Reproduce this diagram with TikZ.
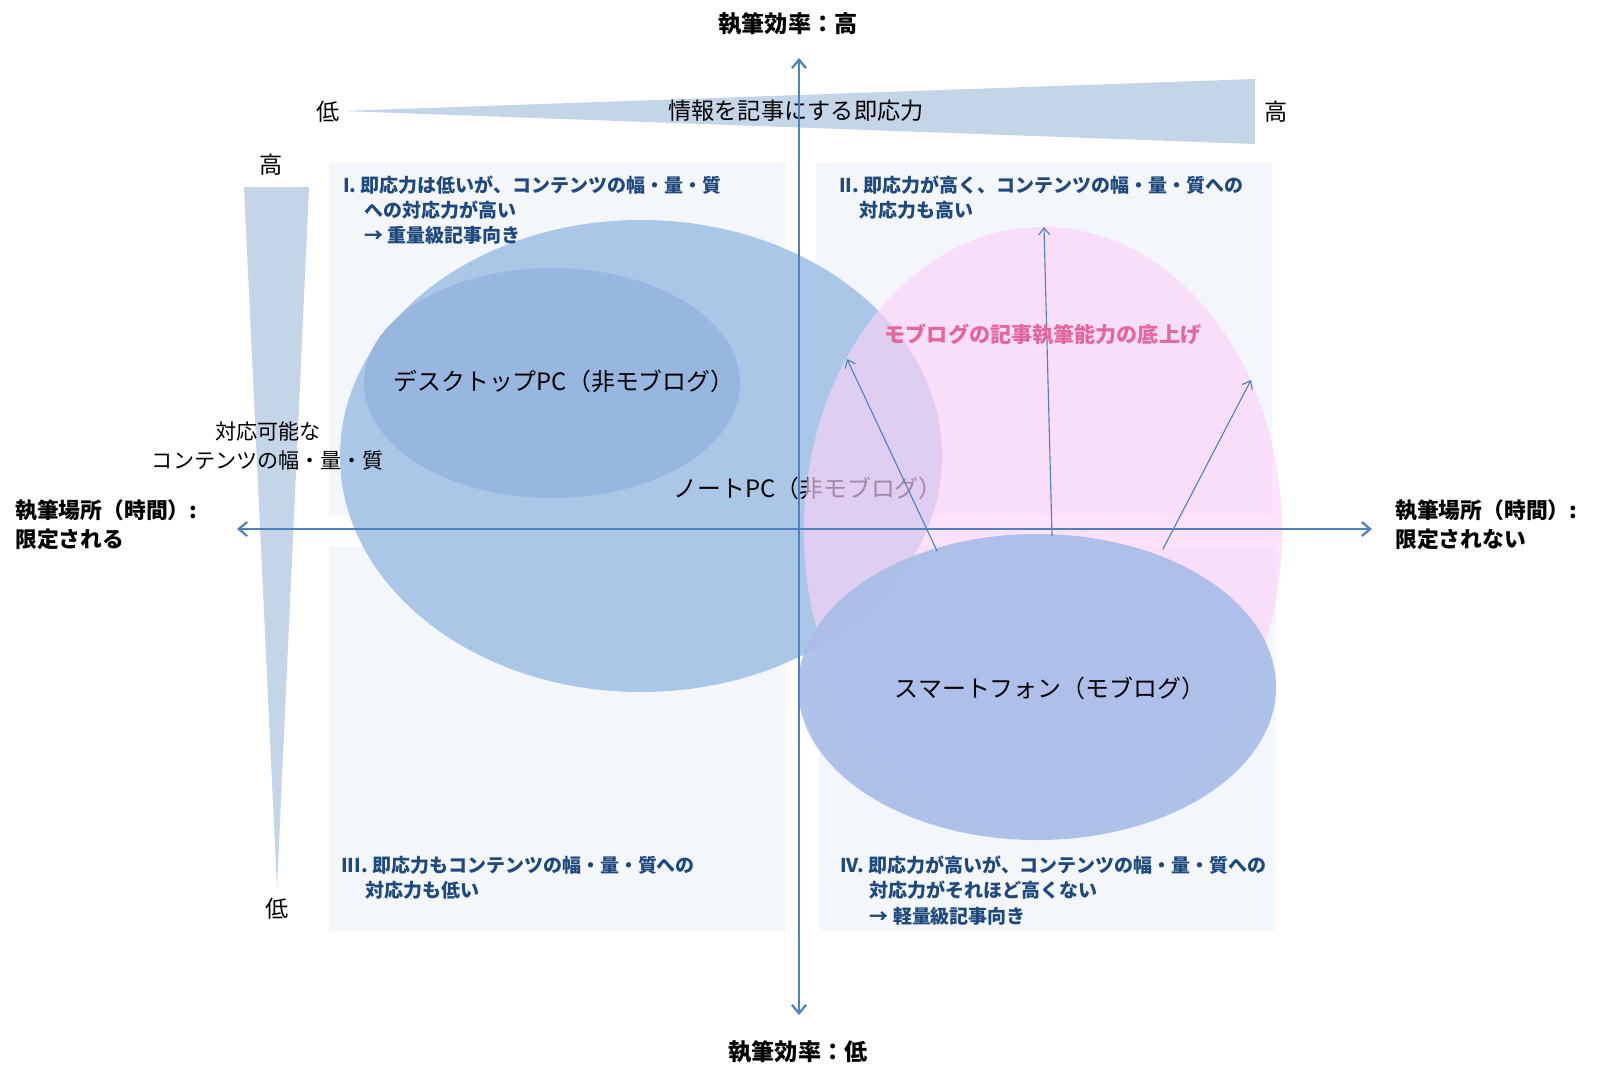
\documentclass[tikz,border=0pt]{standalone}
\usepackage{fontspec}
\setmainfont{Noto Sans CJK JP}
\usepackage{tikz}
\usetikzlibrary{arrows.meta}
\definecolor{axisblue}{HTML}{4F81BD}
\definecolor{quadbg}{HTML}{F3F7FB}
\definecolor{wedgeblue}{HTML}{C5D5E8}
\definecolor{noteblue}{HTML}{AAC7E8}
\definecolor{deskblue}{HTML}{97B7E1}
\definecolor{mobpink}{HTML}{FDD1F8}
\definecolor{phoneblue}{HTML}{A8BDE8}
\definecolor{quadtext}{HTML}{1F497D}
\definecolor{liftpink}{HTML}{E2679C}
\tikzset{
  every picture/.style={line join=round, line cap=round, >={Straight Barb[length=6pt,width=10pt]}},
  axisline/.style={axisblue, line width=1.6pt, <->},
  liftarrow/.style={axisblue, line width=0.8pt, -{Straight Barb[length=5pt,width=8pt]}},
  quadbox/.style={fill=quadbg},
  quadtxt/.style={anchor=north west, align=left, text=quadtext, inner sep=0pt,
    font=\fontsize{13.5pt}{17.8pt}\selectfont\bfseries},
  axistxt/.style={inner sep=0pt, font=\fontsize{16.5pt}{21pt}\selectfont\bfseries},
  sidetxt/.style={anchor=north west, align=left, inner sep=0pt,
    font=\fontsize{15.5pt}{20.6pt}\selectfont\bfseries},
  scaletxt/.style={inner sep=0pt, font=\fontsize{16.5pt}{21pt}\selectfont},
  devtxt/.style={inner sep=0pt, font=\fontsize{17pt}{21pt}\selectfont},
}

\begin{document}
\begin{tikzpicture}[x=0.025cm,y=-0.025cm]
\useasboundingbox (0,0) rectangle (1600,1080);
% quadrant backgrounds
\fill[quadbox] (329,163) rectangle (786,515);
\fill[quadbox] (816,163) rectangle (1272,515);
\fill[quadbox] (329,546) rectangle (786,931);
\fill[quadbox] (819,546) rectangle (1276,931);
% scales
\fill[wedgeblue] (342,111) -- (1255,79) -- (1255,144) -- cycle;
\fill[wedgeblue] (244,187) -- (309,187) -- (277,888) -- cycle;
\node[scaletxt] (spdlow) at (328,112) {低};
\node[scaletxt] (spdhigh) at (1276,112) {高};
\node[scaletxt] (spdname) at (796,111) {情報を記事にする即応力};
\node[scaletxt] (cnthigh) at (271,165) {高};
\node[scaletxt] (cntlow) at (277,909) {低};
% devices
\fill[noteblue] (641,456) ellipse [x radius=301, y radius=236];
\fill[deskblue] (552,383) ellipse [x radius=188, y radius=115];
\node[scaletxt, align=center, font=\fontsize{15pt}{21pt}\selectfont] (cntname) at (268,446) {対応可能な\\コンテンツの幅・量・質};
\node[devtxt] (desk) at (564,381) {デスクトップPC（非モブログ）};
\node[devtxt] (note) at (808,488) {ノートPC（非モブログ）};
\fill[mobpink, opacity=0.65] (1043,531) ellipse [x radius=239, y radius=304];
\fill[phoneblue, opacity=0.92] (1037,687) ellipse [x radius=239, y radius=153];
\node[devtxt] (phone) at (1050,688) {スマートフォン（モブログ）};
% axes
\coordinate (top) at (799,58);
\coordinate (bottom) at (799,1015);
\coordinate (left) at (237,529);
\coordinate (right) at (1372,529);
\draw[axisline] (bottom) -- (top);
\draw[axisline] (left) -- (right);
% lift arrows
\coordinate (lift1s) at (937,551);
\coordinate (lift1e) at (847,359);
\coordinate (lift2s) at (1052,536);
\coordinate (lift2e) at (1044,227);
\coordinate (lift3s) at (1163,549);
\coordinate (lift3e) at (1251,380);
\draw[liftarrow] (lift1s) -- (lift1e);
\draw[liftarrow] (lift2s) -- (lift2e);
\draw[liftarrow] (lift3s) -- (lift3e);
\node[inner sep=0pt, text=liftpink, font=\fontsize{15pt}{18pt}\selectfont\bfseries] (lift) at (1043,334) {モブログの記事執筆能力の底上げ};
% quadrant texts
\node[quadtxt] (q1) at (343,176) {I.~即応力は低いが、コンテンツの幅・量・質\\\hspace*{1.1em}への対応力が高い\\\hspace*{1.1em}→ 重量級記事向き};
\node[quadtxt] (q2) at (839,176) {II.~即応力が高く、コンテンツの幅・量・質への\\\hspace*{1.05em}対応力も高い};
\node[quadtxt] (q3) at (341,856) {III.~即応力もコンテンツの幅・量・質への\\\hspace*{1.3em}対応力も低い};
\node[quadtxt] (q4) at (840,856) {IV.~即応力が高いが、コンテンツの幅・量・質への\\\hspace*{1.55em}対応力がそれほど高くない\\\hspace*{1.55em}→ 軽量級記事向き};
% axis labels
\node[axistxt] (efhigh) at (788,24) {執筆効率：高};
\node[axistxt] (eflow) at (798,1052) {執筆効率：低};
\node[sidetxt] (placelim) at (15,499) {執筆場所（時間）:\\限定される};
\node[sidetxt] (placefree) at (1395,499) {執筆場所（時間）:\\限定されない};
\end{tikzpicture}
\end{document}
